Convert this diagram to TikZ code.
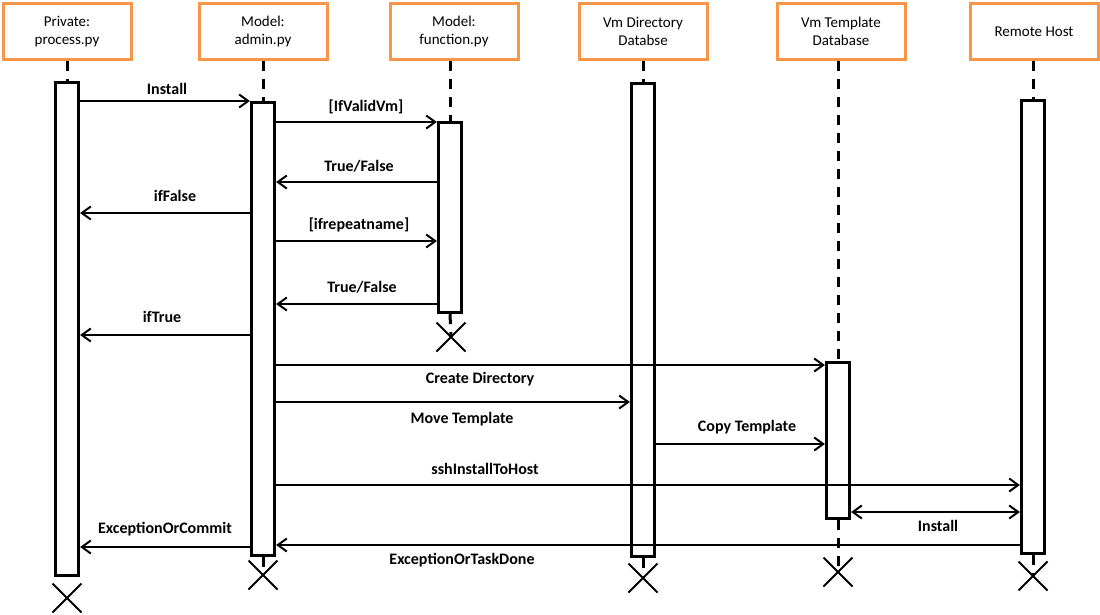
\documentclass[tikz,border=0pt]{standalone}
\usepackage{fontspec}
\setmainfont{Carlito}
\usetikzlibrary{arrows.meta,shapes.misc}
\definecolor{boxorange}{RGB}{247,150,70}

\begin{document}
\begin{tikzpicture}[x=1pt,y=-1pt,
    objbox/.style={draw=boxorange,line width=3pt,fill=white,minimum width=128pt,minimum height=56pt,align=center,font=\fontsize{15pt}{18pt}\selectfont},
    actbar/.style={draw,line width=3.2pt,fill=white,minimum width=23pt,anchor=north,inner sep=0pt},
    lifeline/.style={line width=3pt,dash pattern=on 10pt off 8pt},
    kill/.style={draw,cross out,line width=2pt,minimum size=27pt,inner sep=0pt},
    msg/.style={line width=2pt,-{Straight Barb[length=9pt,width=13pt]}},
    dmsg/.style={line width=2pt,{Straight Barb[length=9pt,width=13pt]}-{Straight Barb[length=9pt,width=13pt]}},
    lbl/.style={font=\fontsize{16pt}{18pt}\selectfont\bfseries,inner sep=0pt}]
    \useasboundingbox (0,0) rectangle (1100,614);
    \fill[white] (0,0) rectangle (1100,614);

    \node[objbox] (h1) at (67,31.5) {Private:\\process.py};
    \node[objbox] (h2) at (263,31.5) {Model:\\admin.py};
    \node[objbox] (h3) at (454,31.5) {Model:\\function.py};
    \node[objbox] (h4) at (643,31.5) {Vm Directory\\Databse};
    \node[objbox] (h5) at (841,31.5) {Vm Template\\Database};
    \node[objbox] (h6) at (1034,31.5) {Remote Host};

    \node[actbar, minimum height=493pt] (a1) at (67,81) {};
    \node[actbar, minimum height=453pt] (a2) at (263,101) {};
    \node[actbar, minimum height=190pt] (a3) at (450,121) {};
    \node[actbar, minimum height=473pt] (a4) at (643,82) {};
    \node[actbar, minimum height=156pt] (a5) at (838,361) {};
    \node[actbar, minimum height=453pt] (a6) at (1033,99) {};

    \node[kill] (k1) at (67,598) {};
    \node[kill] (k2) at (263,575) {};
    \node[kill] (k3) at (451,337) {};
    \node[kill] (k4) at (643,578) {};
    \node[kill] (k5) at (838,572) {};
    \node[kill] (k6) at (1033,576) {};

    \draw[lifeline] (h1.south -| a1) -- (a1.north);
    \draw[lifeline] (h2.south -| a2) -- (a2.north);
    \draw[lifeline] (h3.south -| a3) -- (a3.north);
    \draw[lifeline] (h4.south -| a4) -- (a4.north);
    \draw[lifeline] (h5.south -| a5) -- (a5.north);
    \draw[lifeline] (h6.south -| a6) -- (a6.north);
    \draw[lifeline] (a2.south) -- (k2.center);
    \draw[lifeline] (a3.south) -- (k3.center);
    \draw[lifeline] (a4.south) -- (k4.center);
    \draw[lifeline] (a5.south) -- (k5.center);
    \draw[lifeline] (a6.south) -- (k6.center);

    \draw[msg] (a1.east |- 0,101) -- (a2.west |- 0,101);
    \draw[msg] (a2.east |- 0,122) -- (a3.west |- 0,122);
    \draw[msg] (a3.west |- 0,182) -- (a2.east |- 0,182);
    \draw[msg] (a2.west |- 0,213) -- (a1.east |- 0,213);
    \draw[msg] (a2.east |- 0,241) -- (a3.west |- 0,241);
    \draw[msg] (a3.west |- 0,304) -- (a2.east |- 0,304);
    \draw[msg] (a2.west |- 0,335) -- (a1.east |- 0,335);
    \draw[msg] (a2.east |- 0,365) -- (a5.west |- 0,365);
    \draw[msg] (a2.east |- 0,402) -- (a4.west |- 0,402);
    \draw[msg] (a4.east |- 0,444) -- (a5.west |- 0,444);
    \draw[msg] (a2.east |- 0,485) -- (a6.west |- 0,485);
    \draw[dmsg] (a5.east |- 0,512) -- (a6.west |- 0,512);
    \draw[msg] (a6.west |- 0,545) -- (a2.east |- 0,545);
    \draw[msg] (a2.west |- 0,547) -- (a1.east |- 0,547);

    \node[lbl] (l1) at (167,89) {Install};
    \node[lbl] (l2) at (366,107) {[IfValidVm]};
    \node[lbl] (l3) at (359,166) {True/False};
    \node[lbl] (l4) at (175,196) {ifFalse};
    \node[lbl] (l5) at (359,225) {[ifrepeatname]};
    \node[lbl] (l6) at (362,287) {True/False};
    \node[lbl] (l7) at (162,317) {ifTrue};
    \node[lbl] (l8) at (480,379) {Create Directory};
    \node[lbl] (l9) at (462,419) {Move Template};
    \node[lbl] (l10) at (747,427) {Copy Template};
    \node[lbl] (l11) at (485,469) {sshInstallToHost};
    \node[lbl] (l12) at (938,526) {Install};
    \node[lbl] (l13) at (165,529) {ExceptionOrCommit};
    \node[lbl] (l14) at (462,560) {ExceptionOrTaskDone};
\end{tikzpicture}
\end{document}
